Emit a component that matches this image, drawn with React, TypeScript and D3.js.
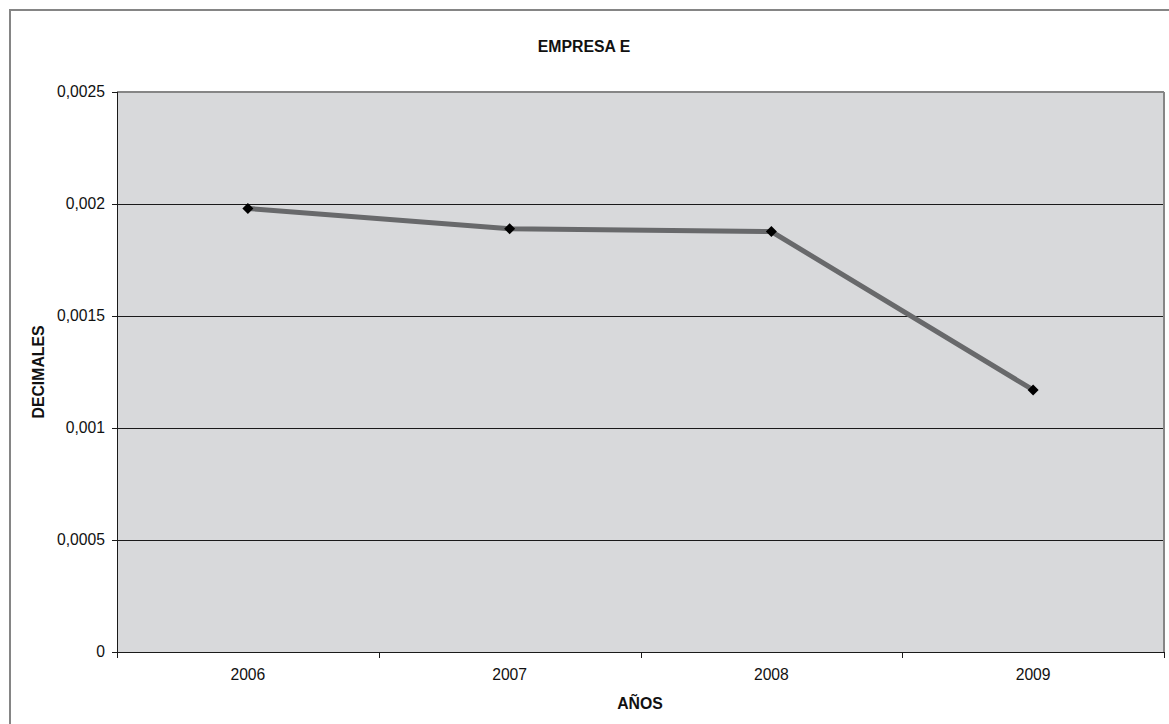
import React from "react";
import * as d3 from "d3";

const years = ["2006", "2007", "2008", "2009"];
const values = [0.00198, 0.00189, 0.001877, 0.00117];
const yTicks = [0, 0.0005, 0.001, 0.0015, 0.002, 0.0025];
const yTickLabels = ["0", "0,0005", "0,001", "0,0015", "0,002", "0,0025"];
const title = "EMPRESA E";
const xTitle = "AÑOS";
const yTitle = "DECIMALES";

export default function App() {
  const W = 1169, H = 724;
  const left = 117, right = 1164, top = 92, bottom = 652;
  const x = d3.scaleBand<string>().domain(years).range([left, right]).padding(0);
  const y = d3.scaleLinear().domain([0, 0.0025]).range([bottom, top]);
  const line = d3
    .line<number>()
    .x((_, i) => (x(years[i]) as number) + x.bandwidth() / 2)
    .y((d) => y(d));
  const font = "Arial, 'Liberation Sans', sans-serif";
  const xTickPos = [...years.map((c) => x(c) as number), right];
  return (
    <svg width={W} height={H} style={{ position: "absolute", left: 0, top: 0, background: "#fff" }} fontFamily={font}>
      <rect x={10} y={10} width={W + 20} height={H + 20} fill="#fff" stroke="#858585" strokeWidth={2} />
      <rect x={left} y={top} width={right - left} height={bottom - top} fill="#d8d9db" />
      <g shapeRendering="crispEdges">
        {yTicks.slice(1, -1).map((t) => (
          <line key={t} x1={left} x2={right} y1={Math.round(y(t)) + 0.5} y2={Math.round(y(t)) + 0.5} stroke="#1a1a1a" strokeWidth={1} />
        ))}
        <line x1={left} x2={right} y1={top} y2={top} stroke="#868686" strokeWidth={2} />
        <line x1={right} x2={right} y1={top} y2={bottom} stroke="#868686" strokeWidth={2} />
        <line x1={left + 0.5} x2={left + 0.5} y1={top} y2={bottom} stroke="#1a1a1a" strokeWidth={1} />
        <line x1={left} x2={right + 1} y1={bottom + 0.5} y2={bottom + 0.5} stroke="#1a1a1a" strokeWidth={1} />
        {yTicks.map((t) => (
          <line key={t} x1={left - 5} x2={left} y1={Math.round(y(t)) + 0.5} y2={Math.round(y(t)) + 0.5} stroke="#1a1a1a" />
        ))}
        {xTickPos.map((p, i) => (
          <line key={i} x1={Math.round(p) + 0.5} x2={Math.round(p) + 0.5} y1={bottom} y2={bottom + 6} stroke="#1a1a1a" />
        ))}
      </g>
      {yTicks.map((t, i) => (
        <text key={t} x={105} y={y(t)} dy="0.35em" textAnchor="end" fontSize={15.7} fill="#111">
          {yTickLabels[i]}
        </text>
      ))}
      {years.map((c) => (
        <text key={c} x={(x(c) as number) + x.bandwidth() / 2} y={675} dy="0.35em" textAnchor="middle" fontSize={15.7} fill="#111">
          {c}
        </text>
      ))}
      <path d={line(values) || ""} fill="none" stroke="#68696b" strokeWidth={5} />
      {values.map((v, i) => {
        const cx = (x(years[i]) as number) + x.bandwidth() / 2;
        const cy = y(v);
        return <path key={i} d={`M${cx},${cy - 5.5}L${cx + 5.5},${cy}L${cx},${cy + 5.5}L${cx - 5.5},${cy}Z`} fill="#000" />;
      })}
      <text x={584} y={46} dy="0.35em" textAnchor="middle" fontSize={15.8} fontWeight="bold" fill="#111">
        {title}
      </text>
      <text x={640} y={703} dy="0.35em" textAnchor="middle" fontSize={15.8} fontWeight="bold" fill="#111">
        {xTitle}
      </text>
      <text transform={`translate(38,${(top + bottom) / 2}) rotate(-90)`} dy="0.35em" textAnchor="middle" fontSize={15.8} fontWeight="bold" fill="#111">
        {yTitle}
      </text>
    </svg>
  );
}
